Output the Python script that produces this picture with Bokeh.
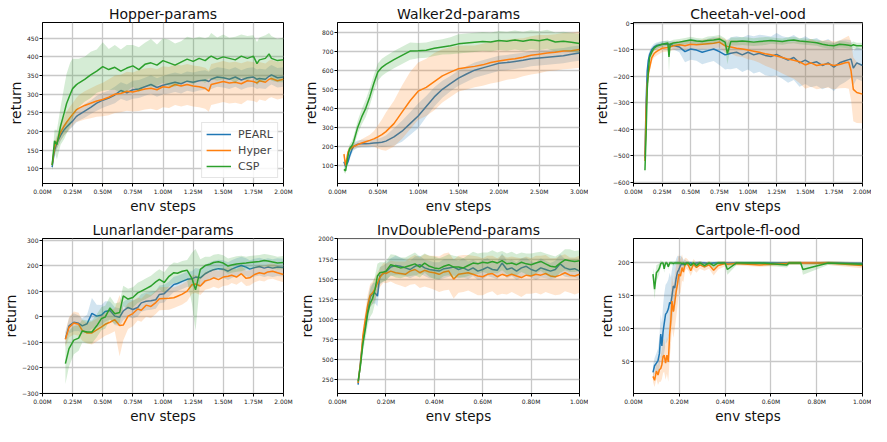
from bokeh.plotting import figure
from bokeh.layouts import gridplot
from bokeh.models import FixedTicker, CustomJSTickFormatter, Range1d
from bokeh.embed import file_html
from bokeh.resources import INLINE

SERIES = ["PEARL", "Hyper", "CSP"]
COLORS = {"PEARL": "#1f77b4", "Hyper": "#ff7f0e", "CSP": "#2ca02c"}

hop_x = [0.08, 0.10, 0.12, 0.15, 0.18, 0.20, 0.23, 0.25, 0.28, 0.30,
         0.35, 0.40, 0.45, 0.50, 0.55, 0.60, 0.65, 0.70, 0.75, 0.80,
         0.85, 0.90, 0.95, 1.00, 1.05, 1.10, 1.15, 1.20, 1.25, 1.30,
         1.35, 1.38, 1.40, 1.45, 1.50, 1.55, 1.60, 1.65, 1.70, 1.75,
         1.78, 1.80, 1.85, 1.88, 1.90, 1.95, 2.00]
hop_pearl = [105, 150, 170, 190, 205, 212, 222, 228, 240, 245,
             255, 265, 276, 284, 290, 298, 310, 304, 312, 314,
             320, 326, 318, 324, 328, 332, 328, 335, 332, 336,
             338, 334, 340, 346, 344, 340, 346, 338, 344, 346,
             340, 342, 340, 348, 352, 344, 346]
hop_pearl_sd = [8, 12, 15, 15, 15, 15, 15, 15, 16, 16,
                18, 18, 20, 20, 20, 22, 22, 22, 24, 24,
                24, 25, 25, 25, 26, 26, 26, 26, 26, 26,
                26, 26, 26, 26, 26, 26, 26, 26, 26, 26,
                26, 26, 26, 26, 26, 26, 26]
hop_hyper = [110, 158, 172, 198, 215, 225, 238, 246, 258, 262,
             270, 276, 282, 286, 292, 300, 302, 308, 306, 310,
             314, 316, 312, 320, 318, 326, 322, 326, 322, 320,
             316, 308, 326, 330, 334, 330, 332, 328, 336, 334,
             330, 336, 332, 340, 342, 336, 340]
hop_hyper_sd = [10, 15, 18, 22, 25, 28, 30, 30, 32, 35,
                38, 40, 42, 45, 48, 50, 50, 52, 52, 55,
                55, 55, 55, 55, 55, 55, 55, 55, 55, 55,
                55, 55, 55, 55, 55, 55, 55, 55, 52, 52,
                52, 50, 50, 50, 50, 50, 50]
hop_csp = [110, 175, 165, 215, 250, 275, 300, 315, 325, 330,
           340, 352, 362, 374, 366, 372, 362, 370, 376, 366,
           380, 384, 378, 390, 384, 378, 386, 394, 388, 396,
           390, 398, 402, 394, 400, 396, 392, 402, 396, 402,
           382, 392, 396, 408, 396, 390, 392]
hop_csp_sd = [15, 30, 40, 50, 70, 80, 85, 80, 70, 65,
              60, 62, 58, 65, 55, 60, 58, 62, 56, 60,
              58, 64, 55, 60, 62, 58, 56, 60, 62, 58,
              60, 56, 62, 58, 60, 55, 62, 58, 60, 56,
              58, 60, 62, 56, 60, 58, 60]

wal_x = [0.08, 0.10, 0.13, 0.15, 0.18, 0.20, 0.25, 0.30, 0.35, 0.40,
         0.45, 0.50, 0.55, 0.60, 0.70, 0.80, 0.90, 1.00, 1.10, 1.20,
         1.30, 1.40, 1.50, 1.60, 1.70, 1.80, 1.90, 2.00, 2.10, 2.20,
         2.30, 2.40, 2.50, 2.60, 2.70, 2.80, 2.90, 3.00]
wal_pearl = [120, 95, 120, 150, 185, 200, 212, 215, 215, 216,
             218, 220, 222, 228, 250, 280, 320, 360, 410, 460,
             500, 530, 558, 580, 600, 612, 624, 636, 640, 646,
             652, 660, 664, 668, 672, 676, 684, 690]
wal_pearl_sd = [15, 15, 20, 20, 20, 20, 20, 20, 20, 20,
                20, 20, 25, 30, 45, 55, 60, 65, 55, 50,
                45, 40, 40, 40, 40, 40, 40, 40, 40, 40,
                40, 40, 40, 40, 40, 40, 40, 40]
wal_hyper = [160, 100, 170, 185, 195, 200, 210, 218, 225, 232,
             240, 250, 262, 278, 320, 380, 440, 490, 510, 540,
             570, 590, 608, 614, 620, 628, 640, 648, 655, 660,
             668, 678, 684, 690, 694, 700, 702, 708]
wal_hyper_sd = [20, 20, 20, 15, 15, 15, 15, 20, 25, 30,
                40, 60, 80, 100, 120, 140, 150, 150, 150, 150,
                140, 130, 120, 115, 110, 110, 110, 110, 105, 105,
                100, 100, 100, 95, 95, 95, 95, 95]
wal_csp = [80, 72, 150, 190, 205, 225, 300, 355, 400, 460,
           530, 590, 615, 630, 655, 678, 700, 702, 705, 715,
           722, 728, 738, 742, 746, 750, 748, 756, 752, 758,
           752, 760, 754, 762, 748, 752, 746, 740]
wal_csp_sd = [15, 15, 20, 20, 25, 30, 35, 40, 45, 45,
              45, 45, 45, 45, 45, 45, 45, 40, 40, 40,
              40, 45, 50, 50, 50, 50, 50, 50, 50, 50,
              50, 50, 50, 50, 50, 50, 50, 50]

ch_x = [0.10, 0.11, 0.12, 0.13, 0.14, 0.16, 0.18, 0.20, 0.25, 0.30,
        0.31, 0.32, 0.35, 0.40, 0.45, 0.50, 0.55, 0.60, 0.65, 0.70,
        0.75, 0.80, 0.82, 0.85, 0.90, 0.95, 1.00, 1.05, 1.10, 1.15,
        1.20, 1.25, 1.30, 1.35, 1.40, 1.45, 1.50, 1.55, 1.60, 1.65,
        1.70, 1.75, 1.80, 1.85, 1.88, 1.90, 1.92, 1.95, 2.00]
ch_pearl = [-510, -300, -180, -140, -120, -100, -90, -85, -80, -80,
            -82, -80, -85, -90, -108, -98, -102, -110, -104, -98,
            -108, -120, -118, -114, -110, -120, -110, -120, -114, -122,
            -126, -118, -130, -140, -130, -150, -140, -152, -146, -160,
            -150, -166, -150, -142, -138, -136, -170, -150, -160]
ch_pearl_sd = [20, 30, 25, 20, 15, 12, 12, 12, 12, 12,
               12, 12, 15, 20, 40, 40, 40, 45, 45, 45,
               50, 55, 55, 60, 60, 65, 65, 70, 70, 75,
               75, 80, 80, 85, 85, 90, 90, 90, 90, 90,
               90, 90, 85, 80, 75, 70, 65, 60, 60]
ch_hyper = [-520, -330, -230, -190, -170, -130, -115, -108, -95, -92,
            -90, -90, -86, -82, -86, -80, -82, -80, -78, -76,
            -72, -86, -88, -90, -95, -98, -102, -106, -110, -116,
            -120, -124, -130, -136, -140, -146, -158, -150, -160, -156,
            -154, -160, -156, -150, -148, -180, -250, -262, -268]
ch_hyper_sd = [20, 40, 30, 25, 20, 15, 15, 15, 15, 15,
               15, 15, 15, 15, 15, 15, 15, 18, 18, 20,
               20, 25, 25, 25, 30, 30, 35, 35, 40, 45,
               50, 55, 60, 65, 70, 80, 90, 90, 90, 90,
               90, 90, 90, 95, 100, 110, 120, 115, 110]
ch_csp = [-555, -420, -250, -180, -130, -110, -95, -88, -80, -75,
          -128, -80, -75, -72, -68, -64, -68, -70, -66, -64,
          -60, -72, -115, -70, -70, -68, -70, -72, -70, -68,
          -66, -68, -70, -66, -64, -68, -70, -72, -74, -80,
          -84, -86, -80, -82, -84, -86, -82, -86, -86]
ch_csp_sd = [20, 40, 30, 20, 15, 12, 10, 10, 10, 10,
             60, 12, 12, 12, 12, 12, 12, 12, 15, 15,
             15, 15, 40, 15, 15, 15, 15, 15, 15, 15,
             12, 12, 12, 12, 12, 12, 12, 12, 12, 12,
             12, 12, 12, 12, 12, 12, 12, 12, 12]

lun_x = [0.19, 0.22, 0.26, 0.30, 0.33, 0.37, 0.41, 0.45, 0.49, 0.52,
         0.56, 0.60, 0.64, 0.67, 0.71, 0.75, 0.79, 0.82, 0.86, 0.90,
         0.94, 0.97, 1.01, 1.05, 1.09, 1.12, 1.16, 1.20, 1.24, 1.27,
         1.31, 1.35, 1.39, 1.42, 1.46, 1.50, 1.54, 1.57, 1.61, 1.65,
         1.69, 1.72, 1.76, 1.80, 1.84, 1.87, 1.91, 1.95, 2.00]
lun_pearl = [-87, -36, -22, -26, -36, -28, 13, 2, 6, 20,
             24, 2, -2, 22, 36, 28, 36, 54, 60, 62,
             66, 87, 90, 108, 126, 130, 138, 146, 148, 155,
             152, 168, 178, 184, 188, 186, 178, 186, 194, 200,
             194, 186, 192, 196, 190, 194, 190, 194, 192]
lun_pearl_sd = [25, 30, 35, 30, 30, 35, 60, 45, 40, 40,
                35, 35, 35, 35, 35, 35, 35, 35, 35, 35,
                35, 35, 35, 30, 30, 30, 30, 30, 30, 35,
                35, 35, 35, 35, 35, 35, 35, 35, 35, 35,
                35, 35, 35, 35, 35, 35, 35, 35, 35]
lun_hyper = [-89, -42, -25, -30, -54, -64, -64, -52, -40, -30,
             -22, -12, -35, -33, 2, 12, 30, 25, 45, 40,
             55, 70, 71, 72, 74, 80, 88, 100, 125, 128,
             120, 140, 145, 152, 145, 155, 158, 162, 155, 168,
             150, 152, 165, 172, 168, 175, 178, 172, 165]
lun_hyper_sd = [30, 40, 45, 45, 40, 40, 45, 45, 45, 45,
                45, 45, 120, 60, 50, 50, 45, 45, 45, 45,
                45, 45, 45, 45, 40, 40, 40, 40, 35, 35,
                35, 35, 35, 35, 35, 35, 35, 30, 30, 30,
                30, 30, 30, 30, 30, 30, 30, 30, 30]
lun_csp = [-184, -125, -92, -84, -56, -60, -60, -36, -7, -2,
           34, 11, 16, 81, 69, 75, 93, 100, 110, 120,
           136, 146, 134, 158, 172, 170, 178, 182, 150, 105,
           185, 200, 205, 212, 215, 210, 198, 202, 206, 208,
           210, 212, 214, 216, 220, 218, 214, 210, 212]
lun_csp_sd = [80, 70, 55, 50, 45, 45, 45, 45, 45, 45,
              45, 40, 40, 40, 40, 40, 40, 40, 40, 40,
              40, 40, 40, 40, 40, 40, 40, 40, 100, 160,
              40, 35, 30, 30, 30, 30, 30, 30, 30, 30,
              25, 25, 25, 25, 25, 25, 25, 25, 25]

idp_x = [0.085, 0.095, 0.105, 0.115, 0.125, 0.135, 0.145, 0.155, 0.165, 0.175,
         0.19, 0.20, 0.22, 0.24, 0.26, 0.28, 0.30, 0.32, 0.34, 0.36,
         0.38, 0.40, 0.42, 0.44, 0.46, 0.48, 0.50, 0.52, 0.54, 0.56,
         0.58, 0.60, 0.62, 0.64, 0.66, 0.68, 0.70, 0.72, 0.74, 0.76,
         0.78, 0.80, 0.82, 0.84, 0.86, 0.88, 0.90, 0.92, 0.94, 0.96,
         0.98, 1.00]
idp_pearl = [190, 470, 740, 930, 1120, 1280, 1320, 1330, 1290, 1540,
             1570, 1590, 1650, 1670, 1660, 1640, 1620, 1660, 1680, 1640,
             1620, 1610, 1600, 1630, 1640, 1650, 1620, 1640, 1610, 1640,
             1600, 1620, 1650, 1620, 1610, 1700, 1620, 1640, 1600, 1640,
             1660, 1620, 1600, 1640, 1620, 1600, 1620, 1690, 1640, 1620,
             1630, 1600]
idp_pearl_sd = [20, 60, 80, 100, 120, 130, 130, 130, 130, 110,
                100, 100, 110, 120, 110, 100, 110, 120, 110, 100,
                110, 100, 110, 120, 110, 100, 110, 120, 110, 100,
                110, 120, 110, 100, 110, 120, 110, 100, 110, 120,
                110, 100, 110, 120, 110, 100, 110, 120, 110, 100,
                110, 100]
idp_hyper = [210, 460, 800, 1000, 1180, 1300, 1330, 1380, 1450, 1520,
             1580, 1570, 1600, 1580, 1570, 1560, 1600, 1620, 1580, 1610,
             1590, 1580, 1560, 1590, 1600, 1500, 1560, 1570, 1580, 1560,
             1540, 1530, 1560, 1570, 1530, 1560, 1540, 1560, 1540, 1520,
             1550, 1540, 1560, 1550, 1570, 1540, 1530, 1550, 1580, 1550,
             1540, 1560]
idp_hyper_sd = [20, 60, 90, 110, 130, 140, 140, 140, 130, 120,
                120, 120, 130, 140, 150, 160, 170, 180, 190, 200,
                200, 210, 220, 230, 230, 240, 230, 230, 220, 230,
                240, 230, 230, 220, 230, 240, 230, 220, 230, 240,
                230, 220, 230, 240, 230, 220, 230, 240, 230, 220,
                230, 230]
idp_csp = [230, 430, 700, 880, 1080, 1200, 1260, 1370, 1540, 1580,
           1590, 1600, 1680, 1660, 1640, 1650, 1670, 1690, 1650, 1700,
           1660, 1640, 1630, 1660, 1680, 1650, 1650, 1640, 1670, 1700,
           1690, 1710, 1700, 1720, 1700, 1730, 1690, 1700, 1680, 1710,
           1690, 1680, 1700, 1720, 1690, 1660, 1650, 1700, 1740, 1730,
           1720, 1730]
idp_csp_sd = [20, 60, 100, 130, 150, 170, 180, 170, 150, 130,
              120, 120, 130, 140, 130, 120, 130, 140, 130, 120,
              130, 140, 130, 120, 130, 140, 130, 120, 130, 140,
              130, 120, 130, 140, 130, 120, 130, 140, 130, 120,
              130, 140, 130, 120, 130, 140, 130, 120, 130, 140,
              130, 130]

cp_x = [0.085, 0.092, 0.100, 0.107, 0.113, 0.119, 0.124, 0.129, 0.134, 0.140,
        0.146, 0.152, 0.158, 0.163, 0.168, 0.174, 0.180, 0.186, 0.192, 0.198,
        0.205, 0.212, 0.218, 0.225, 0.232, 0.240, 0.250, 0.262, 0.275, 0.290,
        0.310, 0.330, 0.350, 0.370, 0.400, 0.410, 0.450, 0.550, 0.670, 0.680,
        0.730, 0.740, 0.850, 1.000]
cp_pearl = [34, 44, 48, 52, 62, 92, 74, 95, 108, 122,
            125, 130, 140, 138, 150, 165, 162, 176, 186, 190,
            196, 199, 197, 200, 200, 199, 200, 198, 200, 200,
            200, 199, 200, 200, 200, 200, 200, 200, 200, 200,
            200, 200, 200, 199]
cp_pearl_sd = [10, 12, 15, 18, 25, 30, 35, 40, 45, 45,
               45, 45, 45, 40, 40, 38, 35, 30, 25, 20,
               15, 10, 8, 5, 3, 3, 3, 3, 3, 3,
               2, 2, 2, 2, 2, 2, 2, 2, 2, 2,
               2, 2, 2, 2]
cp_hyper = [28, 22, 36, 30, 38, 40, 46, 58, 60, 48,
            60, 50, 92, 112, 142, 126, 140, 156, 168, 183,
            180, 193, 186, 198, 199, 196, 188, 198, 193, 197,
            194, 197, 189, 196, 199, 198, 199, 197, 199, 200,
            200, 200, 200, 196]
cp_hyper_sd = [8, 10, 12, 15, 18, 20, 22, 25, 25, 25,
               28, 30, 35, 40, 40, 40, 40, 40, 35, 30,
               25, 20, 15, 10, 8, 8, 8, 8, 8, 6,
               6, 6, 8, 6, 4, 4, 3, 3, 3, 3,
               3, 3, 3, 4]
cp_csp = [183, 160, 185, 188, 192, 199, 200, 200, 191, 200,
          200, 194, 200, 200, 200, 199, 200, 200, 200, 200,
          200, 199, 200, 197, 200, 200, 196, 200, 196, 200,
          196, 200, 196, 200, 200, 190, 200, 200, 197, 200,
          200, 190, 200, 198]
cp_csp_sd = [10, 15, 12, 10, 8, 5, 3, 3, 6, 3,
             3, 4, 3, 3, 3, 3, 3, 3, 3, 3,
             3, 3, 3, 4, 3, 3, 5, 3, 4, 3,
             4, 3, 5, 3, 3, 8, 3, 3, 4, 3,
             3, 8, 3, 3]

x_ticks_2m = [0.0, 0.25, 0.5, 0.75, 1.0, 1.25, 1.5, 1.75, 2.0]
x_ticks_3m = [0.0, 0.5, 1.0, 1.5, 2.0, 2.5, 3.0]
x_ticks_1m = [0.0, 0.2, 0.4, 0.6, 0.8, 1.0]
hop_yticks = [100, 150, 200, 250, 300, 350, 400, 450]
wal_yticks = [100, 200, 300, 400, 500, 600, 700, 800]
ch_yticks = [-600, -500, -400, -300, -200, -100, 0]
lun_yticks = [-300, -200, -100, 0, 100, 200, 300]
idp_yticks = [250, 500, 750, 1000, 1250, 1500, 1750, 2000]
cp_yticks = [50, 100, 150, 200]

FONT = "DejaVu Sans"


def panel(title, xs, series, xr, yr, xticks, yticks, w, h, bl, br, bt, legend=False):
    p = figure(width=w, height=h, x_range=Range1d(*xr), y_range=Range1d(*yr),
               output_backend="svg", toolbar_location=None, tools="",
               min_border_left=bl, min_border_right=br, min_border_top=bt,
               min_border_bottom=0, background_fill_color="white",
               border_fill_color="white")
    p.title.text = title
    p.title.align = "center"
    p.title.text_font = FONT
    p.title.text_font_size = "14px"
    p.title.text_font_style = "normal"
    p.title.text_color = "#111111"
    p.title.text_line_height = 1.0
    p.title.standoff = 1

    p.outline_line_color = "black"
    p.outline_line_width = 1
    p.outline_line_alpha = 1

    for ax in (p.xaxis[0], p.yaxis[0]):
        ax.axis_line_color = "black"
        ax.major_tick_line_color = "black"
        ax.major_tick_out = 3
        ax.major_tick_in = 0
        ax.minor_tick_out = 0
        ax.minor_tick_in = 0
        ax.major_label_text_font = FONT
        ax.major_label_text_font_size = "6px"
        ax.major_label_text_color = "#222222"
        ax.major_label_standoff = 1
        ax.major_label_text_line_height = 1.0
        ax.axis_label_text_font = FONT
        ax.axis_label_text_font_style = "normal"
        ax.axis_label_text_color = "#111111"
        ax.axis_label_text_line_height = 1.0
        ax.axis_label_standoff = 0
    p.xaxis.axis_label_text_font_size = "13.5px"
    p.yaxis.axis_label_text_font_size = "14px"
    p.xaxis.axis_label = "env steps"
    p.yaxis.axis_label = "return"
    p.xaxis.ticker = FixedTicker(ticks=xticks)
    p.yaxis.ticker = FixedTicker(ticks=yticks)
    p.xaxis.formatter = CustomJSTickFormatter(code="return tick.toFixed(2) + 'M';")
    p.yaxis.formatter = CustomJSTickFormatter(
        code="return (tick < 0 ? '\\u2212' : '') + Math.abs(tick).toString();")

    p.grid.grid_line_color = "#c8c8c8"
    p.grid.grid_line_width = 1.3

    for name, ys, sd in series:
        assert len(ys) == len(xs) == len(sd), (title, name)
        lo = [a - b for a, b in zip(ys, sd)]
        hi = [a + b for a, b in zip(ys, sd)]
        p.varea(x=xs, y1=lo, y2=hi, fill_color=COLORS[name], fill_alpha=0.2)
        if legend:
            p.line(xs, ys, line_color=COLORS[name], line_width=1.5, legend_label=name)
        else:
            p.line(xs, ys, line_color=COLORS[name], line_width=1.5)

    if legend:
        lg = p.legend[0]
        lg.location = "bottom_right"
        lg.label_text_font = FONT
        lg.label_text_font_size = "11px"
        lg.glyph_width = 25
        lg.glyph_height = 14
        lg.label_height = 14
        lg.label_standoff = 7
        lg.spacing = 2
        lg.padding = 4
        lg.margin = 5
        lg.border_line_color = "#cccccc"
        lg.border_line_width = 1
        lg.background_fill_alpha = 0.85
    return p


W1, W2, W3 = 293, 295, 283
H1, H2 = 216, 210

p1 = panel("Hopper-params", hop_x,
           [("PEARL", hop_pearl, hop_pearl_sd), ("Hyper", hop_hyper, hop_hyper_sd),
            ("CSP", hop_csp, hop_csp_sd)],
           (0, 2.0), (61, 492), x_ticks_2m, hop_yticks, W1, H1, 39, 10, 22, legend=True)
p2 = panel("Walker2d-params", wal_x,
           [("PEARL", wal_pearl, wal_pearl_sd), ("Hyper", wal_hyper, wal_hyper_sd),
            ("CSP", wal_csp, wal_csp_sd)],
           (0, 3.0), (6, 850), x_ticks_3m, wal_yticks, W2, H1, 44, 9, 22)
p3 = panel("Cheetah-vel-ood", ch_x,
           [("PEARL", ch_pearl, ch_pearl_sd), ("Hyper", ch_hyper, ch_hyper_sd),
            ("CSP", ch_csp, ch_csp_sd)],
           (0, 2.0), (-605, 2), x_ticks_2m, ch_yticks, W3, H1, 45, 9, 22)
p4 = panel("Lunarlander-params", lun_x,
           [("PEARL", lun_pearl, lun_pearl_sd), ("Hyper", lun_hyper, lun_hyper_sd),
            ("CSP", lun_csp, lun_csp_sd)],
           (0, 2.0), (-301, 306), x_ticks_2m, lun_yticks, W1, H2, 39, 10, 22)
p5 = panel("InvDoublePend-params", idp_x,
           [("PEARL", idp_pearl, idp_pearl_sd), ("Hyper", idp_hyper, idp_hyper_sd),
            ("CSP", idp_csp, idp_csp_sd)],
           (0, 1.0), (80, 2005), x_ticks_1m, idp_yticks, W2, H2, 44, 9, 22)
p6 = panel("Cartpole-fl-ood", cp_x,
           [("PEARL", cp_pearl, cp_pearl_sd), ("Hyper", cp_hyper, cp_hyper_sd),
            ("CSP", cp_csp, cp_csp_sd)],
           (0, 1.0), (2, 237), x_ticks_1m, cp_yticks, W3, H2, 45, 9, 22)

grid = gridplot([[p1, p2, p3], [p4, p5, p6]], toolbar_location=None)

open("out.html", "w").write(file_html(grid, INLINE))
